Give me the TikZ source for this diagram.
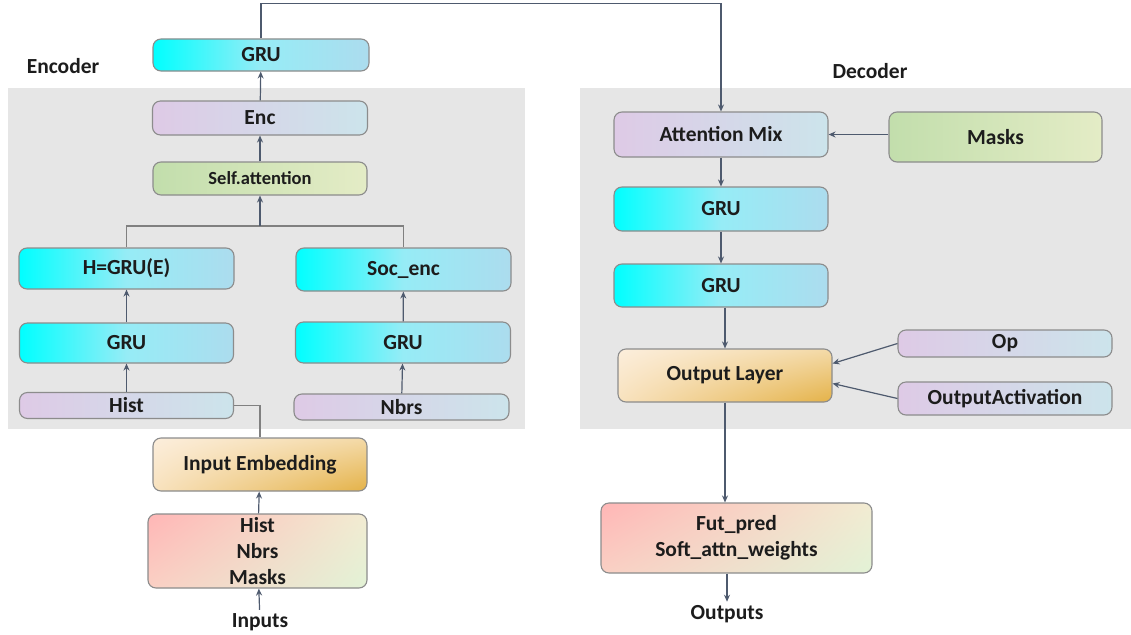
\documentclass[tikz,border=0pt]{standalone}
\usepackage{fontspec}
\setmainfont{Carlito}
\usetikzlibrary{arrows.meta,shadings}

\definecolor{panelgray}{RGB}{230,230,230}
\definecolor{boxline}{RGB}{140,140,140}
\definecolor{arrowcol}{RGB}{78,90,110}
\definecolor{linegray}{RGB}{128,128,128}
\definecolor{txtcol}{RGB}{28,28,28}
% fills
\definecolor{cyanL}{RGB}{0,255,255}
\definecolor{cyanM}{RGB}{150,236,246}
\definecolor{cyanR}{RGB}{172,220,238}
\definecolor{lavL}{RGB}{222,202,230}
\definecolor{lavR}{RGB}{204,228,235}
\definecolor{grnL}{RGB}{194,222,172}
\definecolor{grnR}{RGB}{228,236,198}
\definecolor{orUL}{RGB}{252,238,220}
\definecolor{orUR}{RGB}{244,218,168}
\definecolor{orLL}{RGB}{248,226,190}
\definecolor{orLR}{RGB}{228,178,72}
\definecolor{pkUL}{RGB}{255,182,182}
\definecolor{pkUR}{RGB}{242,236,210}
\definecolor{pkLL}{RGB}{250,208,196}
\definecolor{pkLR}{RGB}{226,242,214}

\begin{document}
\begin{tikzpicture}[
        x=1pt, y=-1pt,
        every node/.style={font=\bfseries\fontsize{21.5}{26}\selectfont, text=txtcol},
        dims/.style 2 args={minimum width=#1pt, minimum height=#2pt},
        box/.style={draw=boxline, line width=1.1pt, rounded corners=8pt, align=center, inner sep=0pt},
        grubox/.style={box, left color=cyanL, right color=cyanR, middle color=cyanM},
        lavbox/.style={box, left color=lavL, right color=lavR},
        grnbox/.style={box, left color=grnL, right color=grnR},
        embbox/.style={box, upper left=orUL, upper right=orUR, lower left=orLL, lower right=orLR},
        iobox/.style={box, upper left=pkUL, upper right=pkUR, lower left=pkLL, lower right=pkLR},
        arr/.style={draw=arrowcol, line width=1.2pt, -{Stealth[length=7pt,width=6pt]}},
        link/.style={draw=linegray, line width=1.2pt}
    ]
    \useasboundingbox (0,0) rectangle (1131,634);

    % 1. Gray panels behind the two halves
    \fill[panelgray] (8,88) rectangle (525,429);
    \fill[panelgray] (580,88) rectangle (1131,429);

    \node (encLabel) at (63,66) {Encoder};
    \node (decLabel) at (870,71) {Decoder};

    % 2. Encoder stack
    \node[grubox, dims={216}{32}] (gruTop) at (261,55) {GRU};
    \node[lavbox, dims={215}{34}] (enc) at (260,118) {Enc};
    \node[grnbox, dims={214}{33}, font=\bfseries\fontsize{18.5}{22}\selectfont] (selfAtt) at (260,178.5) {Self.attention};
    \coordinate (junc) at (260,226);

    \node[grubox, dims={215}{41}] (hGru) at (126.5,268.5) {H=GRU(E)};
    \node[grubox, dims={214}{40}] (gruL) at (126.5,343) {GRU};
    \node[lavbox, dims={214}{26}] (histE) at (126.5,405.5) {Hist};

    \node[grubox, dims={215}{43}] (socEnc) at (403.5,269.5) {Soc\_enc};
    \node[grubox, dims={215}{41}] (gruR) at (403,342.5) {GRU};
    \node[lavbox, dims={215}{26}] (nbrsE) at (401.5,407) {Nbrs};

    % 3. Inputs under the encoder
    \node[embbox, dims={214}{53}] (inEmb) at (260,464.5) {Input Embedding};
    \node[iobox, dims={219}{74}] (inBox) at (257.5,551) {Hist\\Nbrs\\Masks};
    \node (inputs) at (260,622) {Inputs};

    % 4. Decoder stack
    \node[lavbox, dims={214}{45}] (attMix) at (721,134.5) {Attention Mix};
    \node[grnbox, dims={213}{50}] (masksD) at (995.5,137) {Masks};
    \node[grubox, dims={214}{44}] (gruD1) at (721,209) {GRU};
    \node[grubox, dims={214}{43}] (gruD2) at (721,285.5) {GRU};
    \node[embbox, dims={214}{53}] (outLayer) at (725,375.5) {Output Layer};
    \node[lavbox, dims={214}{27}] (opD) at (1005,343.5) {Op};
    \node[lavbox, dims={214}{33}] (outAct) at (1005,398.5) {OutputActivation};

    % 5. Outputs
    \node[iobox, dims={271}{70}] (futPred) at (736.5,538) {Fut\_pred\\Soft\_attn\_weights};
    \node (outputs) at (727,614) {Outputs};

    % 6. Connectors
    \draw[arr] (gruTop.north) -- ++(0,-35) -| (attMix.north);
    \draw[arr] (enc) -- (gruTop);
    \draw[arr] (selfAtt) -- (enc);
    \draw[link] (hGru.north) |- (junc) -| (socEnc.north);
    \draw[arr] (junc) -- (selfAtt.south);
    \draw[arr] (gruL) -- (hGru);
    \draw[arr] (histE) -- (gruL);
    \draw[arr] (gruR) -- (socEnc);
    \draw[arr] (nbrsE) -- (gruR);
    \draw[link] (histE.east) -| (inEmb.north);
    \draw[arr] (inBox) -- (inEmb);
    \draw[arr] (inputs) -- (inBox);

    \draw[arr] (attMix) -- (gruD1);
    \draw[arr] (gruD1) -- (gruD2);
    \draw[arr] (outLayer.north |- gruD2.south) -- (outLayer.north);
    \draw[arr] (masksD.west |- attMix.east) -- (attMix.east);
    \draw[arr] (opD.west) -- ([yshift=12pt]outLayer.east);
    \draw[arr] (outAct.west) -- ([yshift=-8pt]outLayer.east);
    \draw[arr] (outLayer.south) -- (outLayer.south |- futPred.north);
    \draw[arr] (outputs.north |- futPred.south) -- (outputs.north);

\end{tikzpicture}
\end{document}
